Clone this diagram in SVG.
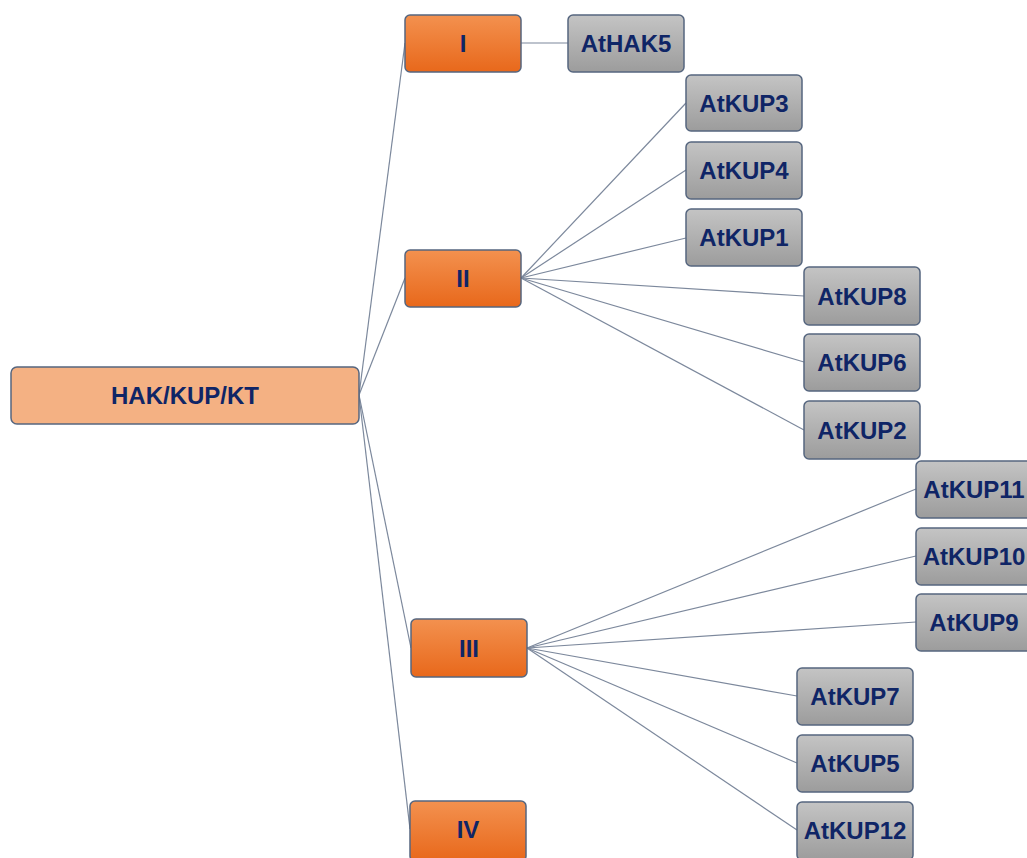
<svg xmlns="http://www.w3.org/2000/svg" width="1027" height="858" viewBox="0 0 1027 858">
<defs>
<linearGradient id="gOr" x1="0" y1="0" x2="0" y2="1">
<stop offset="0" stop-color="#F3914F"/>
<stop offset="1" stop-color="#E8681B"/>
</linearGradient>
<linearGradient id="gGr" x1="0" y1="0" x2="0" y2="1">
<stop offset="0" stop-color="#C4C4C4"/>
<stop offset="1" stop-color="#9C9C9C"/>
</linearGradient>
</defs>
<style>
.b rect{stroke:#56667F;stroke-width:1.5}
.root rect{fill:#F4B183}
.cls rect{fill:url(#gOr)}
.gene rect{fill:url(#gGr)}
text{font-family:"Liberation Sans",Arial,sans-serif;font-weight:bold;font-size:24px;fill:#0F2566;text-anchor:middle;dominant-baseline:central}
#connectors line{stroke:#7C889C;stroke-width:1.2}
</style>
<rect width="1027" height="858" fill="#FFFFFF"/>
<g id="connectors">
<line x1="359" y1="395" x2="405" y2="43"/>
<line x1="359" y1="395" x2="405" y2="278"/>
<line x1="359" y1="395" x2="411" y2="648"/>
<line x1="359" y1="395" x2="410" y2="829"/>
<line x1="521" y1="43" x2="568" y2="43"/>
<line x1="521" y1="278" x2="686" y2="103"/>
<line x1="521" y1="278" x2="686" y2="170"/>
<line x1="521" y1="278" x2="686" y2="238"/>
<line x1="521" y1="278" x2="804" y2="296"/>
<line x1="521" y1="278" x2="804" y2="362"/>
<line x1="521" y1="278" x2="804" y2="430"/>
<line x1="527" y1="648" x2="916" y2="489"/>
<line x1="527" y1="648" x2="916" y2="556"/>
<line x1="527" y1="648" x2="916" y2="622"/>
<line x1="527" y1="648" x2="797" y2="696"/>
<line x1="527" y1="648" x2="797" y2="763"/>
<line x1="527" y1="648" x2="797" y2="830"/>
</g>
<g id="root" class="b root"><rect x="11" y="367" width="348" height="57" rx="6"/><text x="185" y="395.5">HAK/KUP/KT</text></g>
<g id="c1" class="b cls"><rect x="405" y="15" width="116" height="57" rx="5"/><text x="463" y="43.5">I</text></g>
<g id="c2" class="b cls"><rect x="405" y="250" width="116" height="57" rx="5"/><text x="463" y="278.5">II</text></g>
<g id="c3" class="b cls"><rect x="411" y="619" width="116" height="58" rx="5"/><text x="469" y="648">III</text></g>
<g id="c4" class="b cls"><rect x="410" y="801" width="116" height="60" rx="5"/><text x="468" y="829">IV</text></g>
<g id="athak5" class="b gene"><rect x="568" y="15" width="116" height="57" rx="5"/><text x="626" y="43.5">AtHAK5</text></g>
<g id="atkup3" class="b gene"><rect x="686" y="75" width="116" height="56" rx="5"/><text x="744" y="103">AtKUP3</text></g>
<g id="atkup4" class="b gene"><rect x="686" y="142" width="116" height="57" rx="5"/><text x="744" y="170.5">AtKUP4</text></g>
<g id="atkup1" class="b gene"><rect x="686" y="209" width="116" height="57" rx="5"/><text x="744" y="237.5">AtKUP1</text></g>
<g id="atkup8" class="b gene"><rect x="804" y="267" width="116" height="58" rx="5"/><text x="862" y="296">AtKUP8</text></g>
<g id="atkup6" class="b gene"><rect x="804" y="334" width="116" height="57" rx="5"/><text x="862" y="362.5">AtKUP6</text></g>
<g id="atkup2" class="b gene"><rect x="804" y="401" width="116" height="58" rx="5"/><text x="862" y="430">AtKUP2</text></g>
<g id="atkup11" class="b gene"><rect x="916" y="461" width="116" height="57" rx="5"/><text x="974" y="489.5">AtKUP11</text></g>
<g id="atkup10" class="b gene"><rect x="916" y="528" width="116" height="57" rx="5"/><text x="974" y="556.5">AtKUP10</text></g>
<g id="atkup9" class="b gene"><rect x="916" y="594" width="116" height="57" rx="5"/><text x="974" y="622.5">AtKUP9</text></g>
<g id="atkup7" class="b gene"><rect x="797" y="668" width="116" height="57" rx="5"/><text x="855" y="696.5">AtKUP7</text></g>
<g id="atkup5" class="b gene"><rect x="797" y="735" width="116" height="57" rx="5"/><text x="855" y="763.5">AtKUP5</text></g>
<g id="atkup12" class="b gene"><rect x="797" y="802" width="116" height="58" rx="5"/><text x="855" y="830">AtKUP12</text></g>
</svg>
